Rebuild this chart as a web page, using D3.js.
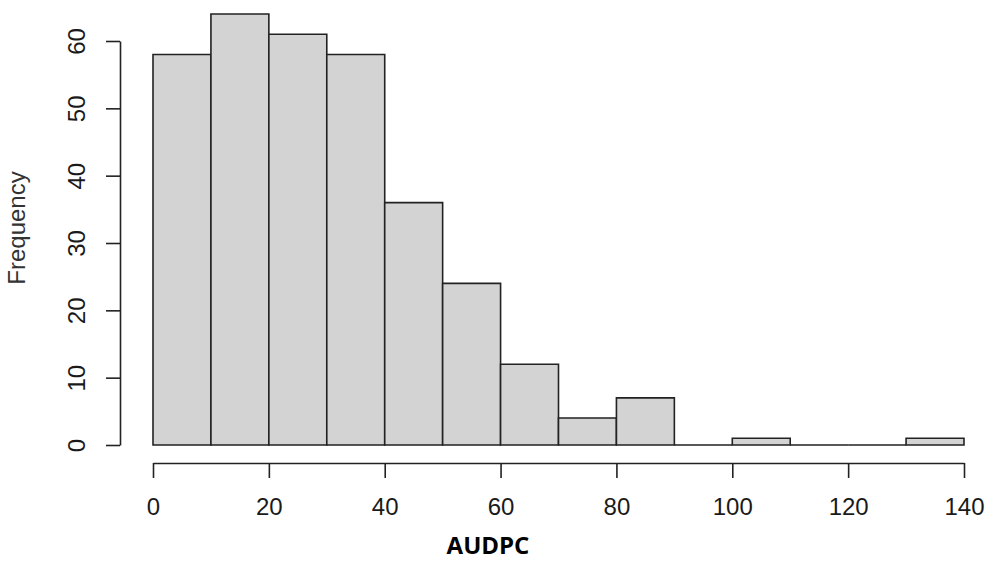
<!DOCTYPE html>
<html><head><meta charset="utf-8">
<script src="https://cdn.jsdelivr.net/npm/d3@7/dist/d3.min.js"></script>
<style>body{margin:0;background:#fff}svg{display:block}</style>
</head><body>
<script>
const binStarts = [0,10,20,30,40,50,60,70,80,90,100,110,120,130];
const binWidth = 10;
const counts = [58,64,61,58,36,24,12,4,7,0,1,0,0,1];
const xTicks = [0,20,40,60,80,100,120,140];
const yTicks = [0,10,20,30,40,50,60];

const W=985,H=561;
const svg=d3.select("body").append("svg").attr("width",W).attr("height",H);
const x=d3.scaleLinear().domain([0,140]).range([153,964]);
const y=d3.scaleLinear().domain([0,60]).range([445,41]);

svg.append("g").selectAll("path").data(binStarts).join("path")
  .attr("d",(d,i)=>{const x0=x(d),x1=x(d+binWidth),y0=y(0),y1=y(counts[i]);
     return `M${x0},${y0}L${x0},${y1}L${x1},${y1}L${x1},${y0}Z`;})
  .attr("fill","#d3d3d3").attr("stroke","#222").attr("stroke-width",1.6);

const font="'Liberation Sans', Arial, sans-serif";
const xa=svg.append("g").attr("transform","translate(0,463)")
  .call(d3.axisBottom(x).tickValues(xTicks).tickSize(15).tickPadding(20).tickSizeOuter(0));
const ya=svg.append("g").attr("transform","translate(120,0)")
  .call(d3.axisLeft(y).tickValues(yTicks).tickSize(14).tickSizeOuter(0));
[xa,ya].forEach(a=>{
  a.attr("font-size",null).attr("font-family",null);
  a.select(".domain").attr("stroke","#222").attr("stroke-width",1.6);
  a.selectAll(".tick line").attr("stroke","#222").attr("stroke-width",1.6);
  a.selectAll("text").style("font-family",font).style("font-size","24px").attr("fill","#1a1a1a");
});
ya.selectAll(".tick text").attr("text-anchor","middle").attr("x",0)
  .attr("transform","translate(-43,0) rotate(-90)").attr("dy","0.35em");

svg.append("text").attr("transform","translate(25,228) rotate(-90)")
  .attr("text-anchor","middle").style("font-family",font).style("font-size","24px").attr("fill","#333")
  .text("Frequency");
svg.append("text").attr("x",488).attr("y",554).attr("text-anchor","middle")
  .style("font-family","'Open Sans', 'Liberation Sans', sans-serif").attr("font-weight","bold")
  .style("font-size","24px").attr("fill","#000").text("AUDPC");
</script>
</body></html>
